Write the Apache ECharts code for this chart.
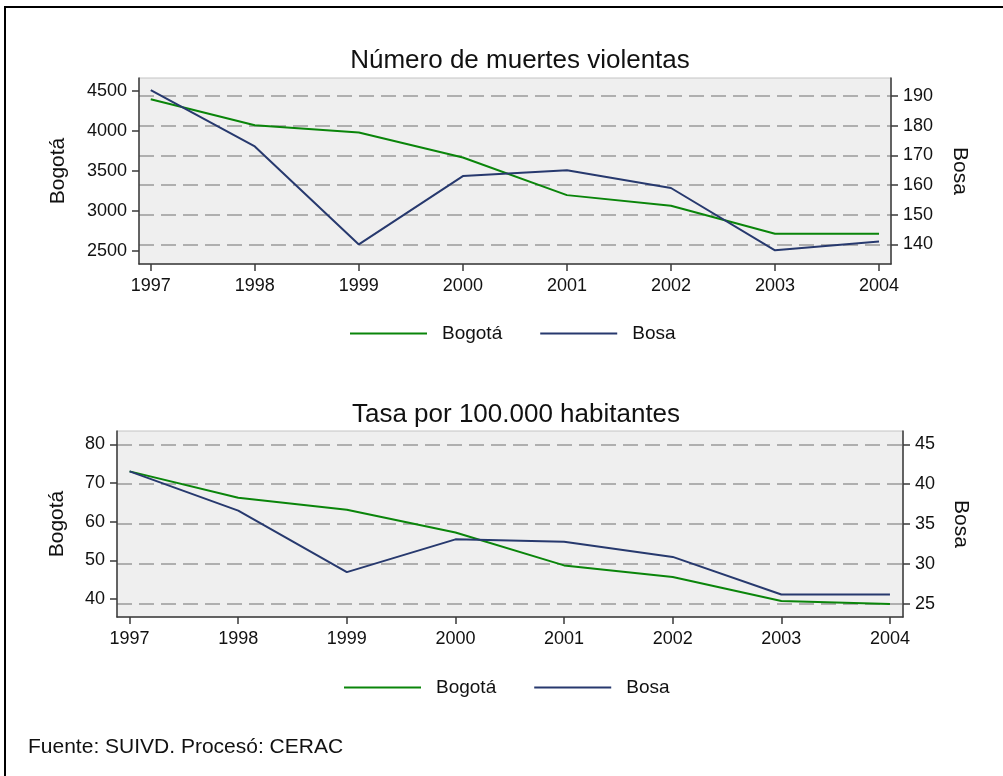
<!DOCTYPE html>
<html>
<head>
<meta charset="utf-8">
<script src="https://cdn.jsdelivr.net/npm/echarts@6/dist/echarts.min.js"></script>
<style>
html,body{margin:0;padding:0;background:#fff;}
#chart{width:1003px;height:776px;}
</style>
</head>
<body>
<div id="chart"></div>
<script>
// ---- data ----
const years = [1997, 1998, 1999, 2000, 2001, 2002, 2003, 2004];
const muertesBogota = [4395, 4071, 3980, 3667, 3196, 3063, 2713, 2713];
const muertesBosa = [192, 173, 140, 163, 165, 159, 138, 141];
const tasaBogota = [73.0, 66.2, 63.1, 57.2, 48.7, 45.7, 39.5, 38.7];
const tasaBosa = [41.6, 36.7, 29.0, 33.1, 32.8, 30.9, 26.2, 26.2];
const ticksMuertesBogota = [2500, 3000, 3500, 4000, 4500];
const ticksMuertesBosa = [140, 150, 160, 170, 180, 190];
const ticksTasaBogota = [40, 50, 60, 70, 80];
const ticksTasaBosa = [25, 30, 35, 40, 45];
const titles = ['Número de muertes violentas', 'Tasa por 100.000 habitantes'];
const seriesNames = ['Bogotá', 'Bosa'];
const footer = 'Fuente: SUIVD. Procesó: CERAC';

const FONT = '"Liberation Sans", Arial, Helvetica, sans-serif';
const GREEN = '#0a850a';
const NAVY = '#27396e';
const AXIS = '#3a3a3a';
const pair = (vals) => years.map((y, i) => [y, vals[i]]);

function xAxis(gridIndex, min, max) {
  return {
    type: 'value', gridIndex, min, max,
    axisLine: {show: true, onZero: false, lineStyle: {color: AXIS, width: 1.5}},
    axisTick: {show: true, length: 7, customValues: years, lineStyle: {color: AXIS, width: 1.5}},
    axisLabel: {customValues: years, margin: 13, color: '#111', fontSize: 18, fontFamily: FONT,
      formatter: v => String(Math.round(v))},
    splitLine: {show: false}
  };
}
function yAxis(gridIndex, position, min, max, ticks, name, nameGap, grid) {
  return {
    type: 'value', gridIndex, position, min, max,
    name, nameLocation: 'middle', nameGap,
    nameRotate: position === 'right' ? -90 : 90,
    nameTextStyle: {fontSize: 21, color: '#111', fontFamily: FONT},
    axisLine: {show: true, lineStyle: {color: AXIS, width: 1.5}},
    axisTick: {show: true, length: 7, customValues: ticks, lineStyle: {color: AXIS, width: 1.5}},
    axisLabel: {customValues: ticks, margin: 12, color: '#111', fontSize: 18, fontFamily: FONT,
      formatter: v => String(Math.round(v))},
    splitLine: {show: grid, lineStyle: {color: '#9a9a9a', width: 1.5, type: [15, 7]}}
  };
}
function line(name, xi, yi, vals, color) {
  return {
    type: 'line', name, xAxisIndex: xi, yAxisIndex: yi, data: pair(vals),
    symbol: 'none', lineStyle: {color, width: 2}, itemStyle: {color}, z: 5
  };
}
function legend(top, left) {
  return {
    top, left, orient: 'horizontal', itemWidth: 77, itemHeight: 14, itemGap: 38,
    icon: 'path://M0,6 L77,6 L77,8 L0,8 Z',
    textStyle: {fontSize: 19, color: '#111', fontFamily: FONT, padding: [0, 0, 0, 10]},
    data: seriesNames
  };
}

const chart = echarts.init(document.getElementById('chart'), null, {renderer: 'canvas'});
chart.setOption({
  backgroundColor: '#fff',
  animation: false,
  title: [
    {text: titles[0], left: 515, top: 43, textAlign: 'center',
      textStyle: {fontSize: 26, fontWeight: 'normal', color: '#111', fontFamily: FONT}},
    {text: titles[1], left: 511, top: 397, textAlign: 'center',
      textStyle: {fontSize: 26, fontWeight: 'normal', color: '#111', fontFamily: FONT}},
    {text: footer, left: 23, top: 732,
      textStyle: {fontSize: 21, fontWeight: 'normal', color: '#111', fontFamily: FONT}}
  ],
  legend: [legend(319, 345), legend(673, 339)],
  grid: [
    {left: 139, top: 78, right: 112, height: 186, show: true, backgroundColor: '#efefef',
      borderColor: '#c4c4c4', borderWidth: 1},
    {left: 117, top: 431, right: 100, height: 186, show: true, backgroundColor: '#efefef',
      borderColor: '#c4c4c4', borderWidth: 1}
  ],
  xAxis: [xAxis(0, 1996.887, 2004.115), xAxis(1, 1996.884, 2004.12)],
  yAxis: [
    yAxis(0, 'left', 2334, 4662, ticksMuertesBogota, seriesNames[0], 70, false),
    yAxis(0, 'right', 133.4, 196.05, ticksMuertesBosa, seriesNames[1], 58, true),
    yAxis(1, 'left', 35.36, 83.43, ticksTasaBogota, seriesNames[0], 49, false),
    yAxis(1, 'right', 23.38, 46.66, ticksTasaBosa, seriesNames[1], 47, true)
  ],
  series: [
    line(seriesNames[0], 0, 0, muertesBogota, GREEN),
    line(seriesNames[1], 0, 1, muertesBosa, NAVY),
    line(seriesNames[0], 1, 2, tasaBogota, GREEN),
    line(seriesNames[1], 1, 3, tasaBosa, NAVY)
  ],
  graphic: [
    {type: 'rect', shape: {x: 5, y: 7, width: 1010, height: 790}, silent: true,
      style: {fill: null, stroke: '#000', lineWidth: 2}}
  ]
});
</script>
</body>
</html>
